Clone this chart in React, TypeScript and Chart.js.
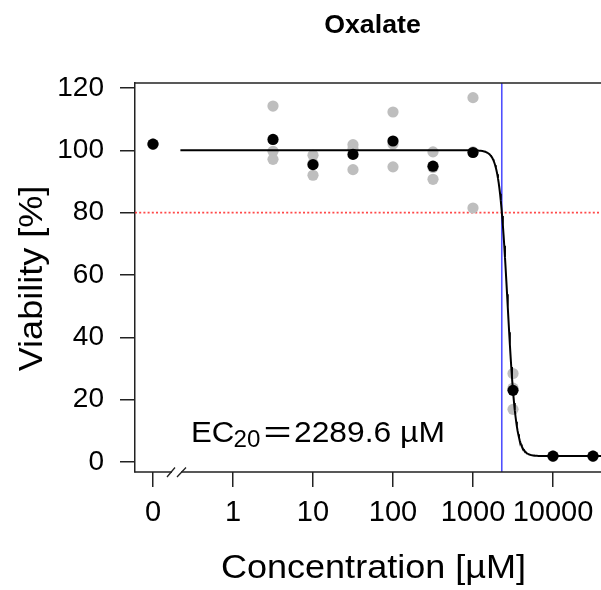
import React, { useEffect, useRef } from 'react';
import { Chart, registerables } from 'chart.js';

Chart.register(...registerables);

// ---- data ----
const chartTitle = 'Oxalate';
const xAxisTitle = 'Concentration [µM]';
const yAxisTitle = 'Viability [%]';

const doses = [0, 3.162, 10, 31.62, 100, 316.2, 1000, 3162, 10000, 31620];
const replicate1 = [102.0, 114.2, 98.4, 101.8, 112.3, 99.5, 116.9, 28.4, 1.9, 1.9];
const replicate2 = [102.0, 99.7, 95.8, 100.4, 102.0, 94.5, 99.5, 23.7, 1.9, 1.9];
const replicate3 = [102.0, 97.1, 92.0, 93.8, 94.7, 90.7, 81.5, 16.9, 1.9, 1.9];
const meanViability = [102.0, 103.5, 95.4, 98.7, 103.0, 94.9, 99.3, 23.0, 1.9, 1.9];

const xTickDoses = [0, 1, 10, 100, 1000, 10000];
const xTickLabels = ['0', '1', '10', '100', '1000', '10000'];
const yTickValues = [0, 20, 40, 60, 80, 100, 120];

const ec20 = 2289.6;
const thresholdLine = 80;

// fitted four-parameter log-logistic model (b, c, d, e)
const fitSlope = 8.33;
const fitLower = 1.9;
const fitUpper = 100;
const fitMid = 2704;
const curveStartDose = 0.22;

// ---- axis geometry (in log10 dose units; dose 0 is shown at the "0" break position) ----
const ZERO_POS = -1;
const X_MIN = -1.225;
const X_MAX = 4.6;
const Y_MIN = -3.2;
const Y_MAX = 121.6;

const FONT = '"Liberation Sans", Arial, Helvetica, sans-serif';

const pos = (d: number) => (d === 0 ? ZERO_POS : Math.log10(d));
const model = (d: number) => fitLower + (fitUpper - fitLower) / (1 + Math.pow(d / fitMid, fitSlope));

function wideText(ctx: CanvasRenderingContext2D, text: string, x: number, y: number, sx: number) {
  ctx.save();
  ctx.translate(x, y);
  ctx.scale(sx, 1);
  ctx.fillText(text, 0, 0);
  ctx.restore();
}

export default function App() {
  const ref = useRef<HTMLCanvasElement>(null);

  useEffect(() => {
    const canvas = ref.current;
    if (!canvas) return;

    const reps: { x: number; y: number }[] = [];
    [replicate1, replicate2, replicate3].forEach((arr) =>
      arr.forEach((v, i) => reps.push({ x: pos(doses[i]), y: v }))
    );
    const means = meanViability.map((v, i) => ({ x: pos(doses[i]), y: v }));

    const curve: { x: number; y: number }[] = [];
    const p0 = Math.log10(curveStartDose);
    const steps = 600;
    for (let k = 0; k <= steps; k++) {
      const p = p0 + ((X_MAX - p0) * k) / steps;
      curve.push({ x: p, y: model(Math.pow(10, p)) });
    }

    const ecPos = Math.log10(ec20);

    const overlay = {
      id: 'overlay',
      afterDraw(chart: any) {
        const { ctx, chartArea, scales } = chart;
        const xs = scales.x;
        ctx.save();
        ctx.strokeStyle = '#222';
        ctx.lineWidth = 1.5;
        // top border
        ctx.beginPath();
        ctx.moveTo(chartArea.left, chartArea.top);
        ctx.lineTo(chartArea.right, chartArea.top);
        ctx.stroke();
        // x axis line with break
        const bx = (xs.getPixelForValue(ZERO_POS) + xs.getPixelForValue(0)) / 2 - 16.5;
        const yb = chartArea.bottom;
        ctx.beginPath();
        ctx.moveTo(chartArea.left - 0.75, yb);
        ctx.lineTo(bx - 4.5, yb);
        ctx.moveTo(bx + 4.5, yb);
        ctx.lineTo(chartArea.right, yb);
        ctx.stroke();
        ctx.lineWidth = 1.3;
        ctx.beginPath();
        ctx.moveTo(bx - 9.5, yb + 5);
        ctx.lineTo(bx - 1.5, yb - 4.5);
        ctx.moveTo(bx + 0.5, yb + 5);
        ctx.lineTo(bx + 9.5, yb - 4.5);
        ctx.stroke();

        ctx.fillStyle = '#000';
        ctx.textBaseline = 'alphabetic';
        // title
        ctx.font = `bold 25px ${FONT}`;
        ctx.textAlign = 'center';
        wideText(ctx, chartTitle, 372.5, 33, 1.07);
        // x title
        ctx.font = `34px ${FONT}`;
        wideText(ctx, xAxisTitle, 373.5, 578, 1.06);
        // y title
        ctx.save();
        ctx.translate(42, 278.5);
        ctx.rotate(-Math.PI / 2);
        ctx.scale(1.06, 1);
        ctx.fillText(yAxisTitle, 0, 0);
        ctx.restore();
        // EC20 annotation
        ctx.textAlign = 'left';
        ctx.font = `30px ${FONT}`;
        wideText(ctx, 'EC', 191, 442, 1.04);
        ctx.font = `23px ${FONT}`;
        wideText(ctx, '20', 233.5, 446.5, 1.05);
        ctx.font = `30px ${FONT}`;
        ctx.textAlign = 'center';
        wideText(ctx, '=', 277.5, 442, 1.6);
        ctx.textAlign = 'left';
        wideText(ctx, `${ec20} µM`, 294, 442, 1.06);
        ctx.restore();
      },
    };

    const chart = new Chart(canvas, {
      type: 'scatter',
      data: {
        datasets: [
          {
            data: [
              { x: X_MIN, y: thresholdLine },
              { x: X_MAX, y: thresholdLine },
            ],
            showLine: true,
            borderColor: 'rgba(255,40,40,0.85)',
            borderWidth: 1.6,
            borderDash: [2, 2.2],
            pointRadius: 0,
            order: 6,
          },
          {
            data: [
              { x: ecPos, y: Y_MIN },
              { x: ecPos, y: Y_MAX },
            ],
            showLine: true,
            borderColor: 'rgba(60,60,255,0.9)',
            borderWidth: 1.6,
            pointRadius: 0,
            order: 5,
          },
          {
            data: reps,
            backgroundColor: '#bebebe',
            borderWidth: 0,
            pointRadius: 5.6,
            order: 4,
          },
          {
            data: curve,
            showLine: true,
            borderColor: '#000',
            borderWidth: 2,
            pointRadius: 0,
            tension: 0,
            order: 3,
          },
          {
            data: means,
            backgroundColor: '#000',
            borderWidth: 0,
            pointRadius: 5.6,
            order: 2,
          },
        ],
      },
      options: {
        animation: false,
        responsive: false,
        maintainAspectRatio: false,
        events: [],
        layout: { autoPadding: false, padding: { top: 83, left: 0, right: 0, bottom: 0 } },
        plugins: {
          legend: { display: false },
          tooltip: { enabled: false },
          title: { display: false },
        },
        scales: {
          x: {
            type: 'linear',
            min: X_MIN,
            max: X_MAX,
            afterBuildTicks: (s: any) => {
              s.ticks = xTickDoses.map((d) => ({ value: pos(d) }));
            },
            afterFit: (s: any) => {
              s.height = 118;
              s.paddingLeft = 0;
              s.paddingRight = 0;
            },
            ticks: {
              autoSkip: false,
              maxRotation: 0,
              minRotation: 0,
              padding: 9,
              color: '#000',
              font: { family: FONT, size: 29 },
              callback: (_v: any, i: number) => xTickLabels[i],
            },
            grid: {
              drawOnChartArea: false,
              drawTicks: true,
              tickLength: 15,
              color: '#222',
              lineWidth: 1.5,
            },
            border: { display: false },
          },
          y: {
            type: 'linear',
            min: Y_MIN,
            max: Y_MAX,
            afterBuildTicks: (s: any) => {
              s.ticks = yTickValues.map((v) => ({ value: v }));
            },
            afterFit: (s: any) => {
              s.width = 135;
              s.paddingTop = 0;
              s.paddingBottom = 0;
            },
            ticks: {
              padding: 16,
              color: '#000',
              font: { family: FONT, size: 28 },
              callback: (v: any) => String(v),
            },
            grid: {
              drawOnChartArea: false,
              drawTicks: true,
              tickLength: 15,
              color: '#222',
              lineWidth: 1.5,
            },
            border: { display: true, color: '#222', width: 1.5 },
          },
        },
      },
      plugins: [overlay],
    } as any);

    return () => chart.destroy();
  }, []);

  return (
    <div style={{ position: 'fixed', left: 0, top: 0, width: 601, height: 590, background: '#fff' }}>
      <canvas ref={ref} width={601} height={590} style={{ display: 'block', width: 601, height: 590 }} />
    </div>
  );
}
